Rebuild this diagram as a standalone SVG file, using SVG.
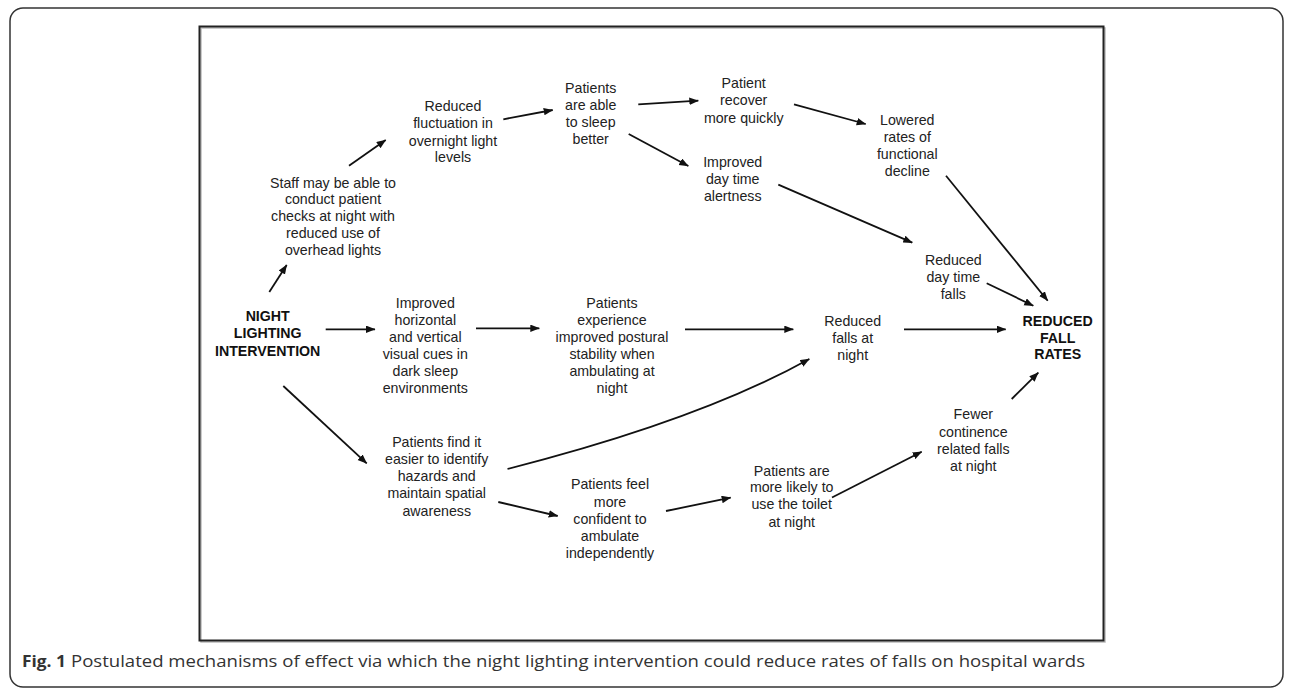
<svg xmlns="http://www.w3.org/2000/svg" width="1292" height="689" viewBox="0 0 1292 689">
<defs>
<marker id="ah" markerUnits="userSpaceOnUse" markerWidth="10" markerHeight="8" refX="9" refY="3.75" orient="auto">
<path d="M0,0 L9.5,3.75 L0,7.5 z" fill="#111"/>
</marker>
<style>
.t{font-family:"Liberation Sans",Arial,sans-serif;font-size:14.2px;fill:#222;text-anchor:middle}
.b{font-weight:bold;fill:#111}
.c{stroke:#111;stroke-width:1.8;fill:none;marker-end:url(#ah)}
.cap{font-family:"Open Sans","Noto Sans",sans-serif;font-size:15.5px;fill:#333}
</style>
</defs>
<rect x="0" y="0" width="1292" height="689" fill="#fff"/>
<rect x="10" y="8" width="1273" height="679" rx="13" fill="none" stroke="#333" stroke-width="1.5"/>
<rect x="201" y="28" width="904" height="614" fill="none" stroke="#bbb" stroke-width="1.5"/>
<rect x="199.5" y="26.5" width="904" height="614" fill="none" stroke="#222" stroke-width="2"/>

<g id="connectors">
<line class="c" x1="269.3" y1="292" x2="286.7" y2="265"/>
<line class="c" x1="349" y1="165.7" x2="385.7" y2="140"/>
<line class="c" x1="503.3" y1="119.3" x2="552.7" y2="110"/>
<line class="c" x1="638.3" y1="104.3" x2="698.3" y2="100.7"/>
<line class="c" x1="628.7" y1="134" x2="688.3" y2="166"/>
<line class="c" x1="794" y1="104.3" x2="865.7" y2="124"/>
<line class="c" x1="778.3" y1="184.7" x2="912.3" y2="242.7"/>
<line class="c" x1="946" y1="175.7" x2="1047.7" y2="300.7"/>
<line class="c" x1="986.7" y1="283.3" x2="1033.3" y2="305.7"/>
<line class="c" x1="325.7" y1="329.3" x2="375" y2="329.3"/>
<line class="c" x1="476" y1="328.3" x2="539.3" y2="328.3"/>
<line class="c" x1="685" y1="329.3" x2="793.3" y2="329.3"/>
<line class="c" x1="904" y1="329.3" x2="1005.7" y2="329.3"/>
<line class="c" x1="283.3" y1="386" x2="366.7" y2="463.3"/>
<path class="c" d="M507.5,469 Q700,420 809.3,359"/>
<line class="c" x1="498.3" y1="502" x2="557.7" y2="516"/>
<line class="c" x1="666" y1="511" x2="730.7" y2="497.7"/>
<line class="c" x1="832" y1="497.5" x2="921.7" y2="451.7"/>
<line class="c" x1="1011.7" y1="399" x2="1038.3" y2="372.7"/>
</g>

<g id="night-lighting">
<text class="t b" x="267.7" y="321">NIGHT</text>
<text class="t b" x="267.7" y="338.3">LIGHTING</text>
<text class="t b" x="267.7" y="355.7">INTERVENTION</text>
</g>
<g id="staff-checks">
<text class="t" x="333" y="187.7">Staff may be able to</text>
<text class="t" x="333" y="204.3">conduct patient</text>
<text class="t" x="333" y="221">checks at night with</text>
<text class="t" x="333" y="238.3">reduced use of</text>
<text class="t" x="333" y="255">overhead lights</text>
</g>
<g id="reduced-fluctuation">
<text class="t" x="453" y="111">Reduced</text>
<text class="t" x="453" y="128.3">fluctuation in</text>
<text class="t" x="453" y="145.7">overnight light</text>
<text class="t" x="453" y="162.3">levels</text>
</g>
<g id="sleep-better">
<text class="t" x="590.7" y="92.7">Patients</text>
<text class="t" x="590.7" y="110">are able</text>
<text class="t" x="590.7" y="127.3">to sleep</text>
<text class="t" x="590.7" y="144">better</text>
</g>
<g id="recover-quickly">
<text class="t" x="743.7" y="87.7">Patient</text>
<text class="t" x="743.7" y="105.3">recover</text>
<text class="t" x="743.7" y="122.7">more quickly</text>
</g>
<g id="day-alertness">
<text class="t" x="732.7" y="167.3">Improved</text>
<text class="t" x="732.7" y="184.3">day time</text>
<text class="t" x="732.7" y="201">alertness</text>
</g>
<g id="functional-decline">
<text class="t" x="907.3" y="125">Lowered</text>
<text class="t" x="907.3" y="142.3">rates of</text>
<text class="t" x="907.3" y="159.3">functional</text>
<text class="t" x="907.3" y="176">decline</text>
</g>
<g id="day-falls">
<text class="t" x="953.3" y="265">Reduced</text>
<text class="t" x="953.3" y="282.3">day time</text>
<text class="t" x="953.3" y="299.3">falls</text>
</g>
<g id="reduced-fall-rates">
<text class="t b" x="1057.7" y="325.7">REDUCED</text>
<text class="t b" x="1057.7" y="342.7">FALL</text>
<text class="t b" x="1057.7" y="359.3">RATES</text>
</g>
<g id="visual-cues">
<text class="t" x="425.3" y="307.7">Improved</text>
<text class="t" x="425.3" y="325">horizontal</text>
<text class="t" x="425.3" y="342">and vertical</text>
<text class="t" x="425.3" y="359">visual cues in</text>
<text class="t" x="425.3" y="376">dark sleep</text>
<text class="t" x="425.3" y="393.3">environments</text>
</g>
<g id="postural-stability">
<text class="t" x="612" y="307.7">Patients</text>
<text class="t" x="612" y="325">experience</text>
<text class="t" x="612" y="342">improved postural</text>
<text class="t" x="612" y="359">stability when</text>
<text class="t" x="612" y="376">ambulating at</text>
<text class="t" x="612" y="393.3">night</text>
</g>
<g id="falls-at-night">
<text class="t" x="852.7" y="325.7">Reduced</text>
<text class="t" x="852.7" y="342.7">falls at</text>
<text class="t" x="852.7" y="360">night</text>
</g>
<g id="identify-hazards">
<text class="t" x="436.7" y="447.3">Patients find it</text>
<text class="t" x="436.7" y="464.3">easier to identify</text>
<text class="t" x="436.7" y="481">hazards and</text>
<text class="t" x="436.7" y="498.3">maintain spatial</text>
<text class="t" x="436.7" y="515.7">awareness</text>
</g>
<g id="confident-ambulate">
<text class="t" x="610" y="489.3">Patients feel</text>
<text class="t" x="610" y="506.7">more</text>
<text class="t" x="610" y="524">confident to</text>
<text class="t" x="610" y="541">ambulate</text>
<text class="t" x="610" y="557.7">independently</text>
</g>
<g id="use-toilet">
<text class="t" x="791.7" y="475.7">Patients are</text>
<text class="t" x="791.7" y="492.3">more likely to</text>
<text class="t" x="791.7" y="509.3">use the toilet</text>
<text class="t" x="791.7" y="526.7">at night</text>
</g>
<g id="continence-falls">
<text class="t" x="973.3" y="419.3">Fewer</text>
<text class="t" x="973.3" y="436.7">continence</text>
<text class="t" x="973.3" y="453.7">related falls</text>
<text class="t" x="973.3" y="470.7">at night</text>
</g>

<g id="caption">
<text class="cap" x="22" y="667" font-weight="bold" textLength="44" lengthAdjust="spacingAndGlyphs">Fig. 1</text>
<text class="cap" x="71" y="667" textLength="1014" lengthAdjust="spacingAndGlyphs">Postulated mechanisms of effect via which the night lighting intervention could reduce rates of falls on hospital wards</text>
</g>
</svg>
